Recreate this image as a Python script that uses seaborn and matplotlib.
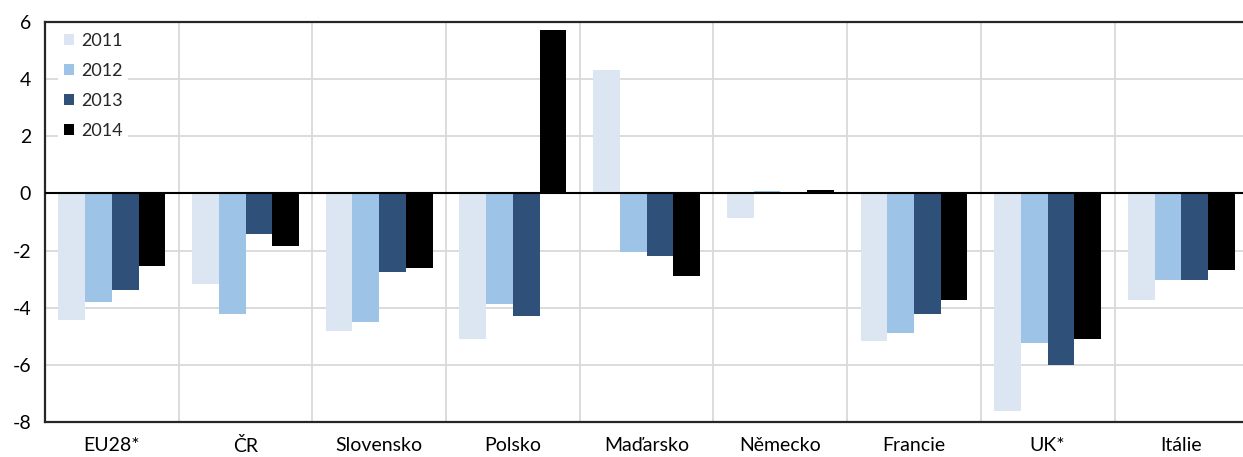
import matplotlib
matplotlib.use("Agg")
import matplotlib.pyplot as plt
import seaborn as sns
import pandas as pd
from matplotlib.patches import Patch

# Meziroční změna podle zemí a let
countries = ["EU28*", "ČR", "Slovensko", "Polsko", "Maďarsko", "Německo", "Francie", "UK*", "Itálie"]
years = ["2011", "2012", "2013", "2014"]
v2011 = [-4.44, -3.18, -4.80, -5.08, 4.33, -0.87, -5.15, -7.60, -3.74]
v2012 = [-3.81, -4.23, -4.51, -3.88, -2.06, 0.10, -4.87, -5.22, -3.04]
v2013 = [-3.39, -1.43, -2.76, -4.30, -2.20, 0.03, -4.23, -5.99, -3.04]
v2014 = [-2.55, -1.85, -2.60, 5.71, -2.90, 0.12, -3.74, -5.08, -2.69]
yticks = [-8, -6, -4, -2, 0, 2, 4, 6]

colors = ["#dce6f2", "#9dc3e6", "#2f5079", "#000000"]

series = [v2011, v2012, v2013, v2014]
df = pd.DataFrame({
    "země": [c for _ in years for c in countries],
    "rok": [y for y in years for _ in countries],
    "hodnota": [v for s in series for v in s],
})

sns.set_theme(style="white")
plt.rcParams["font.family"] = ["Lato", "DejaVu Sans"]

fig = plt.figure(figsize=(12.43, 4.57), dpi=100)
ax = fig.add_axes([0.0362, 0.0766, 0.9680, 0.8753])

sns.barplot(data=df, x="země", y="hodnota", hue="rok", order=countries,
            hue_order=years, palette=colors, width=0.8, saturation=1,
            linewidth=0, ax=ax, legend=False, zorder=3)

ax.set_ylim(-8, 6)
ax.set_xlim(-0.5, len(countries) - 0.5)
ax.set_yticks(yticks)
ax.set_yticklabels([str(t) for t in yticks])
ax.set_xlabel("")
ax.set_ylabel("")

# mřížka: vodorovné linie po 2, svislé mezi zeměmi
for t in yticks:
    if t not in (-8, 0, 6):
        ax.axhline(t, color="#d9d9d9", lw=1.3, zorder=0)
for i in range(1, len(countries)):
    ax.axvline(i - 0.5, color="#d9d9d9", lw=1.3, zorder=0)
ax.axhline(0, color="black", lw=1.5, zorder=4)

for side in ("top", "left", "bottom"):
    ax.spines[side].set_color("#262626")
    ax.spines[side].set_linewidth(1.6)
ax.spines["right"].set_visible(False)

ax.tick_params(axis="both", length=0, labelsize=14, colors="black")
ax.tick_params(axis="x", pad=11)
ax.tick_params(axis="y", pad=10)

handles = [Patch(facecolor=c, edgecolor="none") for c in colors]
leg = ax.legend(handles, years, loc="upper left", bbox_to_anchor=(0.0067, 1.0),
                frameon=True, fontsize=13, handlelength=0.55, handleheight=0.55,
                handletextpad=0.4, labelspacing=0.77, borderpad=0.3,
                borderaxespad=0.3)
leg.get_frame().set_facecolor("white")
leg.get_frame().set_edgecolor("none")
leg.get_frame().set_alpha(1)
leg.set_zorder(5)

fig.savefig("out.png", dpi=100)
